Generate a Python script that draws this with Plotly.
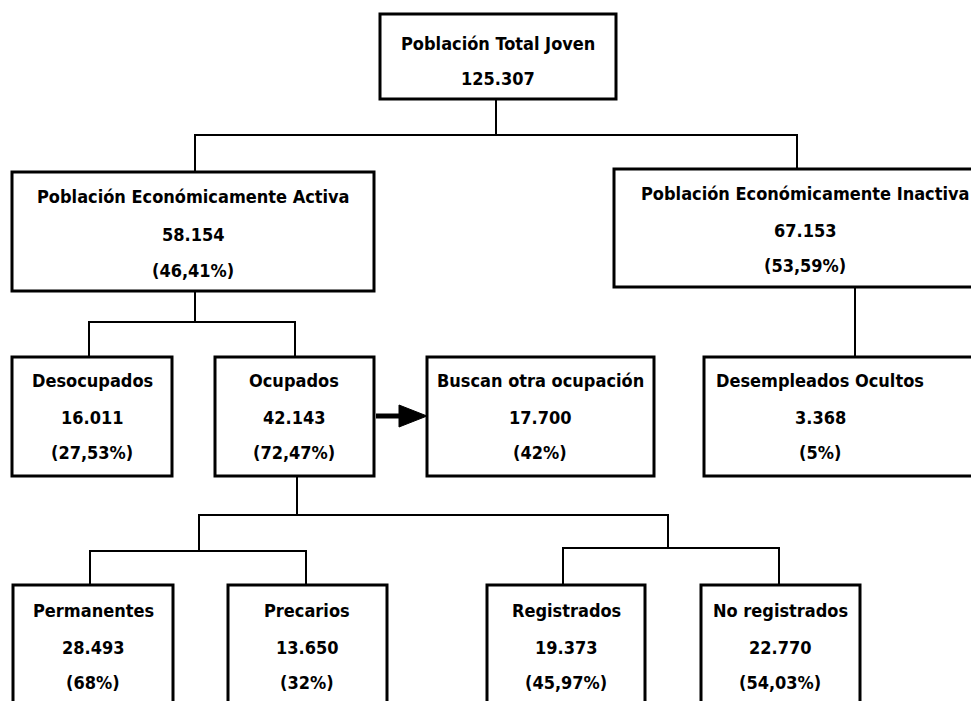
import plotly.graph_objects as go

# ---- data ----
labels = ["Población Total Joven", "Población Económicamente Activa",
          "Población Económicamente Inactiva", "Desocupados", "Ocupados",
          "Buscan otra ocupación", "Desempleados Ocultos", "Permanentes",
          "Precarios", "Registrados", "No registrados"]
values = ["125.307", "58.154", "67.153", "16.011", "42.143", "17.700",
          "3.368", "28.493", "13.650", "19.373", "22.770"]
percents = ["", "(46,41%)", "(53,59%)", "(27,53%)", "(72,47%)", "(42%)",
            "(5%)", "(68%)", "(32%)", "(45,97%)", "(54,03%)"]

# ---- layout geometry (pixels: x0, y0, x1, y1) ----
boxes = [
    (380, 14, 616, 99),
    (12, 172, 374, 291),
    (614, 169, 1010, 287),
    (12, 357, 172, 476),
    (215, 357, 374, 476),
    (427, 357, 654, 476),
    (704, 357, 1010, 476),
    (13, 585, 173, 740),
    (228, 585, 387, 740),
    (487, 585, 645, 740),
    (701, 585, 860, 740),
]
text_cx = [498, 193, 805, 92, 294, 540, 820, 93, 307, 566, 780]
text_y = [
    (43, 78),
    (196, 234, 270),
    (193, 230, 265),
    (380, 417, 452),
    (380, 417, 452),
    (380, 417, 452),
    (380, 417, 452),
    (610, 647, 682),
    (610, 647, 682),
    (610, 647, 682),
    (610, 647, 682),
]
connectors = [
    [(496, 99), (496, 135)],
    [(195, 172), (195, 135), (797, 135), (797, 169)],
    [(195, 291), (195, 322)],
    [(89, 357), (89, 322), (295, 322), (295, 357)],
    [(855, 287), (855, 357)],
    [(297, 476), (297, 515)],
    [(199, 551), (199, 515), (668, 515), (668, 548)],
    [(90, 585), (90, 551), (306, 551), (306, 585)],
    [(563, 585), (563, 548), (779, 548), (779, 585)],
]

FONT = "DejaVu Sans Condensed, sans-serif"

fig = go.Figure()
fig.add_trace(go.Scatter(x=[0, 971], y=[0, 701], mode="markers",
                         marker=dict(opacity=0), hoverinfo="skip",
                         showlegend=False))

shapes = []
for pts in connectors:
    path = "M " + " L ".join(f"{x},{y}" for x, y in pts)
    shapes.append(dict(type="path", path=path, xref="x", yref="y",
                       line=dict(color="black", width=2)))
for (x0, y0, x1, y1) in boxes:
    shapes.append(dict(type="rect", x0=x0, y0=y0, x1=x1, y1=y1,
                       xref="x", yref="y", fillcolor="white",
                       line=dict(color="black", width=3)))
# arrow Ocupados -> Buscan
shapes.append(dict(type="line", x0=376, y0=416, x1=402, y1=416,
                   xref="x", yref="y", line=dict(color="black", width=5)))
shapes.append(dict(type="path", path="M 399,405 L 427,416 L 399,427 Z",
                   xref="x", yref="y", fillcolor="black",
                   line=dict(color="black", width=1)))

annotations = []
for i in range(len(labels)):
    lines = [labels[i], values[i]] + ([percents[i]] if percents[i] else [])
    for txt, ty in zip(lines, text_y[i]):
        annotations.append(dict(x=text_cx[i], y=ty, xref="x", yref="y",
                                text=txt, showarrow=False, xanchor="center",
                                yanchor="middle",
                                font=dict(family=FONT, size=18,
                                          weight="bold", color="black")))

fig.update_layout(
    width=971, height=701,
    margin=dict(l=0, r=0, t=0, b=0),
    paper_bgcolor="white", plot_bgcolor="white",
    xaxis=dict(range=[0, 971], visible=False, fixedrange=True),
    yaxis=dict(range=[701, 0], visible=False, fixedrange=True),
    shapes=shapes, annotations=annotations,
    showlegend=False,
)

fig.write_html("out.html", config={"displayModeBar": False},
               post_script="document.body.style.margin='0px';"
                           "document.body.style.overflow='hidden';")
